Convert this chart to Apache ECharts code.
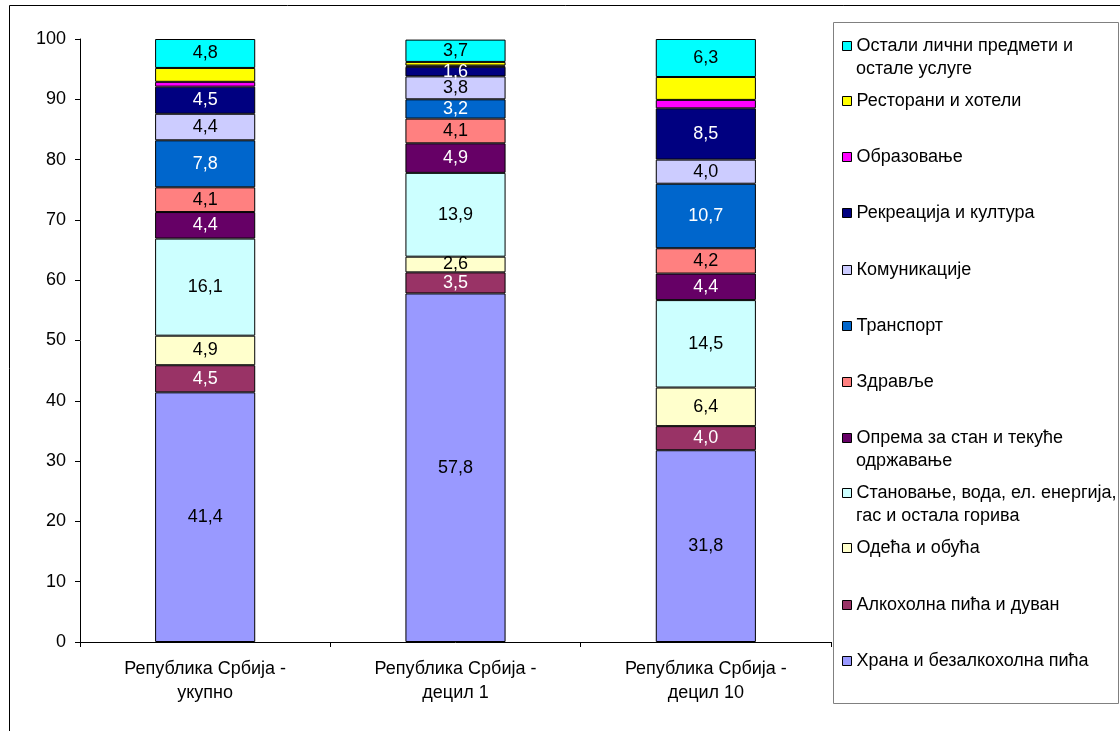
<!DOCTYPE html>
<html>
<head>
<meta charset="utf-8">
<script src="https://cdn.jsdelivr.net/npm/echarts@6/dist/echarts.min.js"></script>
<style>html,body{margin:0;padding:0;background:#fff;}#c{width:1120px;height:731px;}</style>
</head>
<body>
<div id="c"></div>
<script>
const categories = ['Република Србија -\nукупно', 'Република Србија -\nдецил 1', 'Република Србија -\nдецил 10'];
const yTicks = [0, 100, 10];

const food = [41.4, 57.8, 31.8];
const alcohol = [4.5, 3.5, 4.0];
const clothing = [4.9, 2.6, 6.4];
const housing = [16.1, 13.9, 14.5];
const furnishing = [4.4, 4.9, 4.4];
const health = [4.1, 4.1, 4.2];
const transport = [7.8, 3.2, 10.7];
const communication = [4.4, 3.8, 4.0];
const recreation = [4.5, 1.6, 8.5];
const education = [0.8, 0.2, 1.4];
const restaurants = [2.3, 0.6, 3.8];
const other = [4.8, 3.7, 6.3];

const seriesDefs = [
  {name: 'Храна и безалкохолна пића', data: food, color: '#9999FF', label: '#000', show: true, legendY: 661},
  {name: 'Алкохолна пића и дуван', data: alcohol, color: '#993366', label: '#fff', show: true, legendY: 605},
  {name: 'Одећа и обућа', data: clothing, color: '#FFFFCC', label: '#000', show: true, legendY: 548},
  {name: 'Становање, вода, ел. енергија,\nгас и остала горива', data: housing, color: '#CCFFFF', label: '#000', show: true, legendY: 493},
  {name: 'Опрема за стан и текуће\nодржавање', data: furnishing, color: '#660066', label: '#fff', show: true, legendY: 438},
  {name: 'Здравље', data: health, color: '#FF8080', label: '#000', show: true, legendY: 382},
  {name: 'Транспорт', data: transport, color: '#0066CC', label: '#fff', show: true, legendY: 326},
  {name: 'Комуникације', data: communication, color: '#CCCCFF', label: '#000', show: true, legendY: 270},
  {name: 'Рекреација и култура', data: recreation, color: '#000080', label: '#fff', show: true, legendY: 213},
  {name: 'Образовање', data: education, color: '#FF00FF', label: '#000', show: false, legendY: 157},
  {name: 'Ресторани и хотели', data: restaurants, color: '#FFFF00', label: '#000', show: false, legendY: 101},
  {name: 'Остали лични предмети и\nостале услуге', data: other, color: '#00FFFF', label: '#000', show: true, legendY: 46}
];

const FONT = 'Liberation Sans, Arial, sans-serif';
const FS = 18;
const fmt = v => Number(v).toFixed(1).replace('.', ',');

const series = seriesDefs.map(s => ({
  name: s.name,
  type: 'bar',
  stack: 'total',
  barWidth: '40%',
  data: s.data,
  itemStyle: {color: s.color, borderColor: '#000', borderWidth: 1},
  label: {
    show: s.show,
    position: 'inside',
    color: s.label,
    fontFamily: FONT,
    fontSize: FS,
    formatter: p => fmt(p.value)
  },
  emphasis: {disabled: true}
}));

const LEG_X = 842;
const legends = seriesDefs.map(s => ({
  data: [s.name],
  left: LEG_X,
  top: s.legendY - 11,
  padding: 0,
  itemWidth: 9,
  itemHeight: 9,
  itemGap: 0,
  selectedMode: false,
  icon: 'rect',
  itemStyle: {borderColor: '#000', borderWidth: 1},
  formatter: name => name.split('\n')[0],
  textStyle: {fontFamily: FONT, fontSize: FS, color: '#000', lineHeight: 22}
}));

// second lines of the two-line legend entries
const legendSecondLines = seriesDefs
  .filter(s => s.name.indexOf('\n') >= 0)
  .map(s => ({
    type: 'text', silent: true, z: 10,
    style: {
      x: LEG_X + 9 + 5, y: s.legendY + 23,
      text: s.name.split('\n')[1],
      fill: '#000', font: FS + 'px ' + FONT,
      verticalAlign: 'middle', align: 'left'
    }
  }));

const chart = echarts.init(document.getElementById('c'), null, {renderer: 'canvas'});
chart.setOption({
  animation: false,
  backgroundColor: '#fff',
  grid: {left: 80, right: 289, top: 39, bottom: 89},
  legend: legends,
  xAxis: {
    type: 'category',
    data: categories,
    axisLine: {lineStyle: {color: '#000', width: 1}},
    axisTick: {show: true, length: 5, lineStyle: {color: '#000'}},
    axisLabel: {color: '#000', fontFamily: FONT, fontSize: FS, lineHeight: 24, margin: 15}
  },
  yAxis: {
    type: 'value',
    min: yTicks[0],
    max: yTicks[1],
    interval: yTicks[2],
    splitLine: {show: false},
    axisLine: {show: true, lineStyle: {color: '#000', width: 1}},
    axisTick: {show: true, length: 5, lineStyle: {color: '#000'}},
    axisLabel: {color: '#000', fontFamily: FONT, fontSize: FS, margin: 14}
  },
  graphic: [
    {type: 'rect', silent: true, z: -1, shape: {x: 9.5, y: 5.5, width: 1200, height: 800}, style: {fill: 'none', stroke: '#000', lineWidth: 1}},
    {type: 'rect', silent: true, z: -1, shape: {x: 833.5, y: 22.5, width: 285, height: 681}, style: {fill: '#fff', stroke: '#808080', lineWidth: 1}}
  ].concat(legendSecondLines),
  series: series
});
</script>
</body>
</html>
